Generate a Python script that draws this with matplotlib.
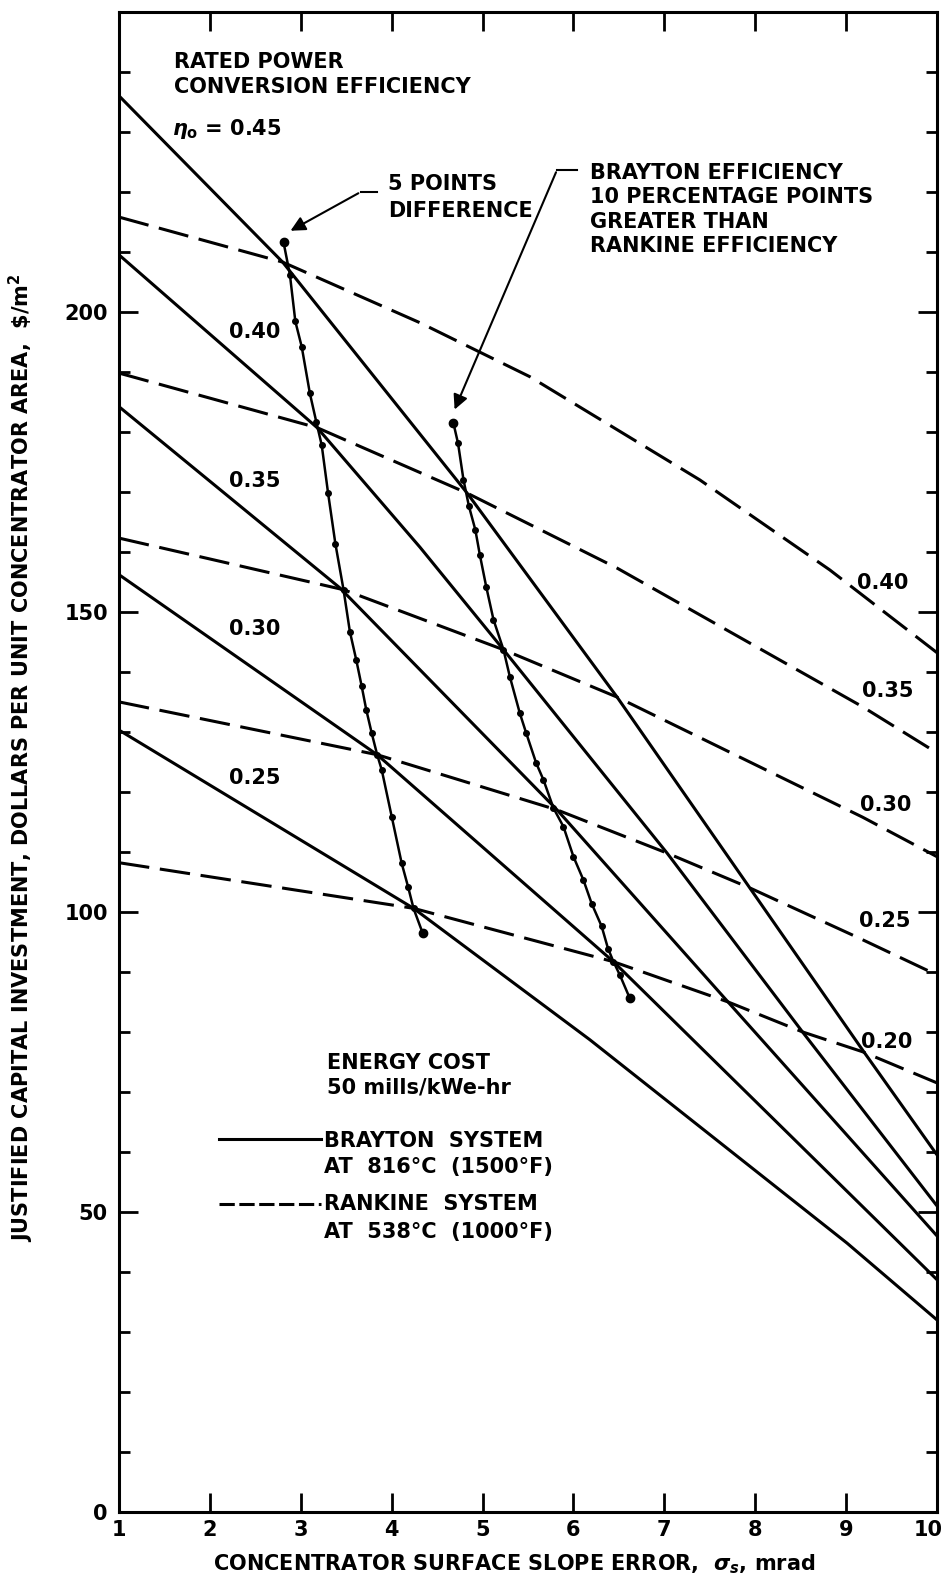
import matplotlib
matplotlib.use('Agg')
import matplotlib.pyplot as plt
from matplotlib.ticker import MultipleLocator

plt.rcParams['font.family'] = ['DejaVu Sans']
plt.rcParams['font.weight'] = 'bold'
plt.rcParams['mathtext.fontset'] = 'dejavusans'

# Brayton system (solid lines), rated efficiency -> (slope error, $/m2)
brayton_eff = ['0.45', '0.40', '0.35', '0.30', '0.25']
b45_x = [1, 2.8, 4.83, 6.48, 7.94, 9.18, 10]
b45_y = [236, 208.3, 169.8, 135.8, 104, 77, 59.5]
b40_x = [1, 3.18, 4.31, 5.23, 7.03, 8.52, 10]
b40_y = [209.5, 180.7, 160.8, 143.7, 109.8, 80, 51]
b35_x = [1, 3.43, 5.82, 7.70, 10]
b35_y = [184.2, 154, 117, 85, 46]
b30_x = [1, 3.84, 6.44, 10]
b30_y = [156.2, 126.2, 91.7, 38.7]
b25_x = [1, 4.24, 6.18, 9.01, 10]
b25_y = [130.3, 100.6, 78.7, 44.8, 32]

# Rankine system (dashed lines)
rankine_eff = ['0.40', '0.35', '0.30', '0.25', '0.20']
r40_x = [1, 2.8, 4.31, 5.52, 7.39, 8.82, 10]
r40_y = [215.8, 208.3, 198.2, 189.2, 172, 157, 143.2]
r35_x = [1, 3.18, 4.83, 6.48, 9.18, 10]
r35_y = [189.8, 180.7, 169.8, 157.3, 134.2, 126.5]
r30_x = [1, 3.47, 5.23, 6.48, 9.18, 10]
r30_y = [162.3, 153.7, 143.7, 135.8, 115.8, 109.2]
r25_x = [1, 3.84, 5.82, 7.03, 7.94, 9.12, 10]
r25_y = [135, 126.2, 117, 109.8, 104, 95.8, 89.5]
r20_x = [1, 4.24, 6.44, 7.70, 8.52, 9.18, 10]
r20_y = [108.2, 100.6, 91.7, 85, 80, 76.7, 71.5]

# equal-difference curves (dots)
five_x = [2.81, 2.88, 2.94, 3.01, 3.10, 3.17, 3.23, 3.30, 3.38, 3.47, 3.54, 3.61,
          3.67, 3.72, 3.78, 3.84, 3.89, 4.00, 4.11, 4.18, 4.24, 4.34]
five_y = [211.6, 206.2, 198.4, 194.2, 186.4, 181.7, 177.8, 169.8, 161.4, 153.7, 146.7, 142,
          137.6, 133.7, 129.8, 126.2, 123.7, 115.9, 108.1, 104.2, 100.6, 96.5]
ten_x = [4.68, 4.73, 4.79, 4.85, 4.92, 4.97, 5.04, 5.12, 5.23, 5.30, 5.41, 5.48,
         5.59, 5.67, 5.78, 5.89, 6.00, 6.11, 6.20, 6.31, 6.38, 6.44, 6.51, 6.62]
ten_y = [181.4, 178.1, 172, 167.6, 163.7, 159.5, 154.2, 148.7, 143.7, 139.2, 133.1, 129.8,
         124.8, 122, 117.3, 114.2, 109.2, 105.3, 101.4, 97.6, 93.9, 91.7, 89.5, 85.6]

x_ticks = [1, 2, 3, 4, 5, 6, 7, 8, 9, 10]
y_ticks = [0, 50, 100, 150, 200, 250]
y_labels = ['0', '50', '100', '150', '200', '']

fig = plt.figure(figsize=(9.44, 15.85), dpi=100)
ax = fig.add_axes([0.1261, 0.0461, 0.8665, 0.9464])

lw = 2.2
dash = (10, 3.5)
for xs, ys in [(b45_x, b45_y), (b40_x, b40_y), (b35_x, b35_y), (b30_x, b30_y), (b25_x, b25_y)]:
    ax.plot(xs, ys, color='black', lw=lw, solid_capstyle='butt')
for xs, ys in [(r40_x, r40_y), (r35_x, r35_y), (r30_x, r30_y), (r25_x, r25_y), (r20_x, r20_y)]:
    ax.plot(xs, ys, color='black', lw=lw, dashes=dash)

for xs, ys in [(five_x, five_y), (ten_x, ten_y)]:
    ax.plot(xs, ys, color='black', lw=1.8, marker='o', ms=4)
    ax.plot([xs[0], xs[-1]], [ys[0], ys[-1]], 'o', color='black', ms=6)

# labels on curves
bl_y = [196.6, 171.9, 147.2, 122.4]
for lab, yy in zip(brayton_eff[1:], bl_y):
    ax.text(2.49, yy, lab, fontsize=15, ha='center', va='center')
rl_x = [9.40, 9.46, 9.43, 9.43, 9.45]
rl_y = [154.8, 136.8, 117.8, 98.5, 78.3]
for lab, xx, yy in zip(rankine_eff, rl_x, rl_y):
    ax.text(xx, yy, lab, fontsize=15, ha='center', va='center')

ax.text(1.60, 241.7, 'RATED POWER', fontsize=15, va='center')
ax.text(1.60, 237.5, 'CONVERSION EFFICIENCY', fontsize=15, va='center')
ax.text(1.58, 230.4, r'$\eta_{\rm o}$ = 0.45', fontsize=15, va='center')

ax.text(3.96, 221.3, '5 POINTS', fontsize=15, va='center')
ax.text(3.96, 216.8, 'DIFFERENCE', fontsize=15, va='center')
ax.plot([3.84, 3.66], [220, 220], color='black', lw=1.5)
ax.annotate('', xy=(2.86, 213.3), xytext=(3.66, 220),
            arrowprops=dict(arrowstyle='-|>', lw=1.5, color='black', mutation_scale=22))

bt = ['BRAYTON EFFICIENCY', '10 PERCENTAGE POINTS', 'GREATER THAN', 'RANKINE EFFICIENCY']
for i, t in enumerate(bt):
    ax.text(6.18, 223.2 - 4.1 * i, t, fontsize=15, va='center')
ax.plot([6.04, 5.82], [223.7, 223.7], color='black', lw=1.5)
ax.annotate('', xy=(4.68, 183.3), xytext=(5.82, 223.7),
            arrowprops=dict(arrowstyle='-|>', lw=1.5, color='black', mutation_scale=22))

ax.text(3.29, 74.8, 'ENERGY COST', fontsize=15, va='center')
ax.text(3.29, 70.8, '50 mills/kWe-hr', fontsize=15, va='center')
ax.plot([2.10, 3.22], [62.2, 62.2], color='black', lw=lw)
ax.text(3.26, 61.8, 'BRAYTON  SYSTEM', fontsize=15, va='center')
ax.text(3.26, 57.5, 'AT  816°C  (1500°F)', fontsize=15, va='center')
ax.plot([2.10, 3.22], [51.3, 51.3], color='black', lw=lw, dashes=(5, 1.5))
ax.text(3.26, 51.3, 'RANKINE  SYSTEM', fontsize=15, va='center')
ax.text(3.26, 46.7, 'AT  538°C  (1000°F)', fontsize=15, va='center')

ax.set_xlim(1, 10)
ax.set_ylim(0, 250)
ax.set_xticks(x_ticks)
# last label drawn by hand so it stays inside the figure
ax.set_xticklabels([str(v) for v in x_ticks[:-1]] + [''])
ax.annotate(str(x_ticks[-1]), xy=(x_ticks[-1], 0), xytext=(4, -6), textcoords='offset points',
            ha='right', va='top', fontsize=15, annotation_clip=False)
ax.yaxis.set_minor_locator(MultipleLocator(10))
ax.tick_params(axis='both', which='both', direction='in', top=True, right=True,
               width=2, labelsize=15, color='black')
ax.tick_params(axis='x', which='major', length=14, pad=6)
ax.tick_params(axis='y', which='major', length=14, pad=8)
ax.tick_params(axis='y', which='minor', length=8)
ax.set_yticks(y_ticks)
ax.set_yticklabels(y_labels)
for s in ax.spines.values():
    s.set_linewidth(2.2)

fig.text(0.023, 0.522, r'JUSTIFIED CAPITAL INVESTMENT, DOLLARS PER UNIT CONCENTRATOR AREA,  \$/m$^2$',
         rotation=90, fontsize=15, ha='center', va='center')
fig.text(0.545, 0.013, r'CONCENTRATOR SURFACE SLOPE ERROR,  $\sigma_s$, mrad',
         fontsize=15, ha='center', va='center')

fig.savefig('out.png', dpi=100)
